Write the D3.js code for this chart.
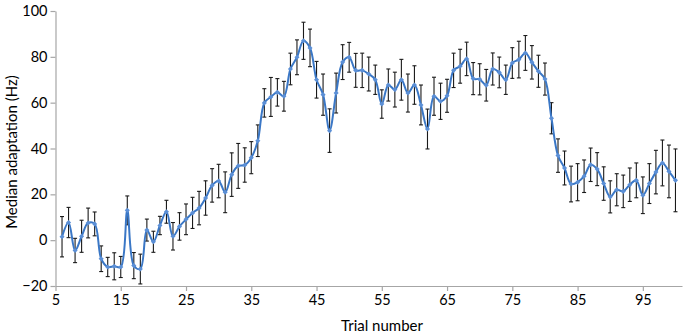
<html lang="en">
<head>
    <meta charset="UTF-8">
    <title>Median adaptation</title>
    <script src="https://d3js.org/d3.v7.min.js"></script>
    <style>
        body { margin: 0; background: #fff; }
        svg { font-family: Lato, "Open Sans", sans-serif; }
    </style>
</head>
<body>
    <script>
        // Trial numbers and readings (median, error)
        const trials = [6, 7, 8, 9, 10, 11, 12, 13, 14, 15, 16, 17, 18, 19, 20, 21, 22, 23, 24, 25,
            26, 27, 28, 29, 30, 31, 32, 33, 34, 35, 36, 37, 38, 39, 40, 41, 42, 43, 44, 45,
            46, 47, 48, 49, 50, 51, 52, 53, 54, 55, 56, 57, 58, 59, 60, 61, 62, 63, 64, 65,
            66, 67, 68, 69, 70, 71, 72, 73, 74, 75, 76, 77, 78, 79, 80, 81, 82, 83, 84, 85,
            86, 87, 88, 89, 90, 91, 92, 93, 94, 95, 96, 97, 98, 99, 100];
        const medians = [1.5, 7.7, -4.5, 1.7, 7.5, 7.1, -8.1, -11.7, -11.4, -11.7, 13, -11.1, -12.6, 4.4, -0.7, 6.4, 12.4, 1.7, 6, 9.1,
            11.9, 14, 18.4, 23.9, 25.8, 20.9, 28.6, 32.4, 32.8, 36, 43.4, 59.9, 62.5, 64.5, 62.8, 74.7, 79.8, 87, 83.9, 70,
            63.5, 47.8, 64.2, 77.7, 79.8, 74.1, 74.1, 72.5, 70, 59.4, 67.7, 65.7, 70, 64.2, 67.7, 59, 48.5, 62.8, 60.6, 63,
            74.1, 75.9, 79.1, 70.5, 70.2, 67.6, 74.7, 73.2, 70, 77.3, 78.8, 81.7, 77.6, 73.7, 70.3, 53.2, 36.9, 31.5, 24.5, 25.3,
            27.9, 32.9, 31, 24.7, 18.9, 22, 21.3, 24.2, 26.1, 19.6, 24.7, 29.7, 33.7, 30, 26.1];
        const errors = [8.8, 6.6, 5.3, 7, 6.5, 5.2, 5.6, 4.2, 5.9, 4.6, 6.3, 5.7, 6.5, 4.8, 4.6, 4, 5, 6, 6, 6.7,
            6.8, 7.3, 7.5, 7.3, 7.3, 8.9, 9.5, 9.8, 7.5, 7, 6.9, 6.2, 8.5, 6, 6.5, 6.9, 7.6, 8.1, 8.2, 8,
            9, 9.5, 8.7, 7.6, 6.5, 7.4, 7.5, 7.4, 6.4, 6.2, 7, 7.6, 8.9, 8.3, 8.4, 8.7, 8.7, 8.3, 7.9, 7.2,
            7.5, 7.4, 7.3, 7, 6.8, 6.9, 7, 6.7, 6.4, 6.7, 8, 7.6, 7.3, 7, 7, 6.8, 7.3, 7.4, 7.8, 8.1,
            7.1, 7.3, 7.2, 7.3, 7, 7, 7.1, 7.3, 7.6, 8, 8.7, 9.5, 10, 11.5, 13.7];
        const xTicks = [5, 15, 25, 35, 45, 55, 65, 75, 85, 95];
        const yTicks = [-20, 0, 20, 40, 60, 80, 100];

        const data = trials.map((t, i) => ({ t: t, v: medians[i], e: errors[i] }));

        const width = 686, height = 334;

        const x = d3.scaleLinear().domain([5, 101]).range([55.5, 682]);
        const y = d3.scaleLinear().domain([-20, 100]).range([286, 11]);

        const svg = d3.select("body").append("svg")
            .attr("width", width)
            .attr("height", height);

        // x axis
        const xAxis = svg.append("g")
            .attr("transform", `translate(0,${y(-20)})`)
            .call(d3.axisBottom(x).tickValues(xTicks).tickSize(5).tickSizeOuter(0).tickPadding(4));

        // y axis
        const yAxis = svg.append("g")
            .attr("transform", `translate(${x(5)},0)`)
            .call(d3.axisLeft(y).tickValues(yTicks).tickSize(5).tickSizeOuter(0).tickPadding(3));

        [xAxis, yAxis].forEach(g => {
            g.select(".domain").attr("stroke", "#a6a6a6").attr("stroke-width", 1.2);
            g.selectAll(".tick line").attr("stroke", "#a6a6a6").attr("stroke-width", 1.2);
            g.selectAll(".tick text").attr("fill", "#000").style("font-size", "14.5px")
                .style("font-family", "Lato, 'Open Sans', sans-serif");
        });

        // error bars
        const bars = svg.append("g").attr("stroke", "#1a1a1a").attr("stroke-width", 1.1);
        bars.selectAll("line.v")
            .data(data)
            .join("line")
            .attr("class", "v")
            .attr("x1", d => x(d.t)).attr("x2", d => x(d.t))
            .attr("y1", d => y(d.v + d.e)).attr("y2", d => y(d.v - d.e));
        bars.selectAll("line.top")
            .data(data)
            .join("line")
            .attr("class", "top")
            .attr("x1", d => x(d.t) - 2).attr("x2", d => x(d.t) + 2)
            .attr("y1", d => y(d.v + d.e)).attr("y2", d => y(d.v + d.e));
        bars.selectAll("line.bot")
            .data(data)
            .join("line")
            .attr("class", "bot")
            .attr("x1", d => x(d.t) - 2).attr("x2", d => x(d.t) + 2)
            .attr("y1", d => y(d.v - d.e)).attr("y2", d => y(d.v - d.e));

        // smoothed line
        const line = d3.line()
            .x(d => x(d.t))
            .y(d => y(d.v))
            .curve(d3.curveCatmullRom.alpha(0.5));

        svg.append("path")
            .datum(data)
            .attr("fill", "none")
            .attr("stroke", "#3a77c6")
            .attr("stroke-width", 2)
            .attr("d", line);

        // markers
        svg.append("g")
            .selectAll("rect")
            .data(data)
            .join("rect")
            .attr("x", d => x(d.t) - 1.8)
            .attr("y", d => y(d.v) - 1.8)
            .attr("width", 3.6)
            .attr("height", 3.6)
            .attr("fill", "#5b8fd6")
            .attr("transform", d => `rotate(45,${x(d.t)},${y(d.v)})`);

        // axis titles
        svg.append("text")
            .attr("x", 382)
            .attr("y", 331)
            .attr("text-anchor", "middle")
            .style("font-size", "15px")
            .text("Trial number");

        svg.append("text")
            .attr("transform", "translate(17,152) rotate(-90)")
            .attr("text-anchor", "middle")
            .style("font-size", "15px")
            .text("Median adaptation (Hz)");
    </script>
</body>
</html>
